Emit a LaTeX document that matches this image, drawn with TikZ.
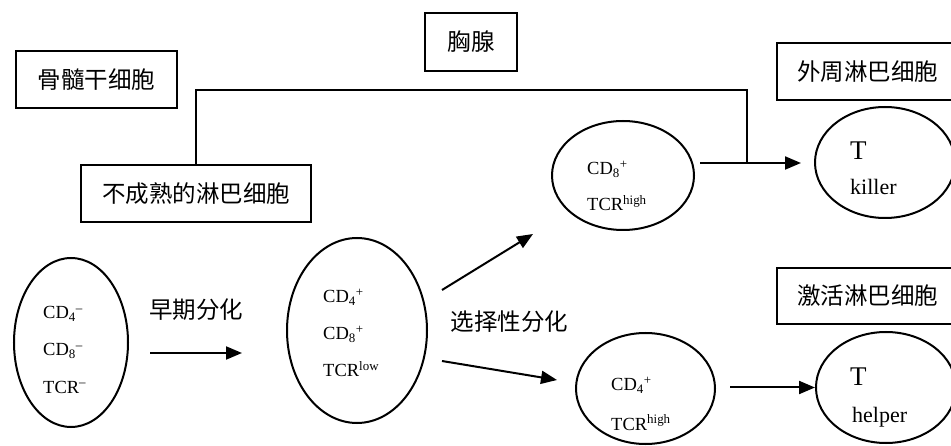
\documentclass[tikz,border=0pt]{standalone}
\usepackage{fontspec}
\setmainfont{Liberation Serif}
\newfontfamily\cjk{Noto Sans CJK SC}
\usetikzlibrary{shapes.geometric,arrows.meta}
\begin{document}
\begin{tikzpicture}[x=1pt,y=-1pt,
 boxnode/.style={draw, line width=2pt, rectangle, inner sep=0pt, font=\cjk\fontsize{23.5}{26}\selectfont},
 cell/.style={draw, line width=2pt, ellipse, inner sep=0pt},
 lab/.style={anchor=base west, inner sep=0pt, font=\fontsize{18.5}{20}\selectfont},
 biglab/.style={anchor=base west, inner sep=0pt, font=\fontsize{27}{29}\selectfont},
 midlab/.style={anchor=base west, inner sep=0pt, font=\fontsize{22}{24}\selectfont},
 cjklab/.style={inner sep=0pt, font=\cjk\fontsize{23.5}{26}\selectfont},
 conn/.style={line width=2pt},
 arr/.style={line width=2pt, -{Triangle[length=16pt,width=13pt]}},
]
\fill[white] (0,0) rectangle (951,446);
\useasboundingbox (0,0) rectangle (951,446);

% boxes
\node[boxnode, minimum width=161pt, minimum height=57pt] (b1) at (96.5,79.5) {骨髓干细胞};
\node[boxnode, minimum width=230pt, minimum height=57pt] (b2) at (196,193.5) {不成熟的淋巴细胞};
\node[boxnode, minimum width=92pt, minimum height=58pt] (b3) at (471,42) {胸腺};
\node[boxnode, minimum width=181pt, minimum height=57pt] (b4) at (867.5,71.5) {外周淋巴细胞};
\node[boxnode, minimum width=181pt, minimum height=56pt] (b5) at (867.5,296) {激活淋巴细胞};

% cells
\node[cell, minimum width=114pt, minimum height=169pt] (E1) at (71,342.5) {};
\node[cell, minimum width=140pt, minimum height=185pt] (E2) at (357,330.5) {};
\node[cell, minimum width=142pt, minimum height=109pt] (E3) at (623,175.5) {};
\node[cell, minimum width=140pt, minimum height=111pt] (E4) at (885,162.5) {};
\node[cell, minimum width=139pt, minimum height=111pt] (E5) at (645.5,388.5) {};
\node[cell, minimum width=140pt, minimum height=111pt] (E6) at (886,387.5) {};

% cell texts
\node[lab] (t11) at (43,319) {CD\textsubscript{4}\textsuperscript{–}};
\node[lab] (t12) at (43,356) {CD\textsubscript{8}\textsuperscript{–}};
\node[lab] (t13) at (43,393) {TCR\textsuperscript{–}};
\node[lab] (t21) at (323,303) {CD\textsubscript{4}\textsuperscript{+}};
\node[lab] (t22) at (323,340) {CD\textsubscript{8}\textsuperscript{+}};
\node[lab] (t23) at (323,377) {TCR\textsuperscript{low}};
\node[lab] (t31) at (587,175) {CD\textsubscript{8}\textsuperscript{+}};
\node[lab] (t32) at (587,211) {TCR\textsuperscript{high}};
\node[biglab] (t41) at (850,160) {T};
\node[midlab] (t42) at (850,195) {killer};
\node[lab] (t51) at (611,391) {CD\textsubscript{4}\textsuperscript{+}};
\node[lab] (t52) at (611,430) {TCR\textsuperscript{high}};
\node[biglab] (t61) at (850,386) {T};
\node[midlab] (t62) at (852,422) {helper};

% arrow labels
\node[cjklab] (l1) at (196,309.5) {早期分化};
\node[cjklab] (l2) at (509.5,321.5) {选择性分化};

% coordinates for free arrow ends
\coordinate (a0) at (150,353);
\coordinate (a1) at (242,353);
\coordinate (s0) at (442,290);
\coordinate (s1) at (533,234);
\coordinate (r0) at (442,361);
\coordinate (r1) at (557,380);
\coordinate (k0) at (700,163);
\coordinate (k1) at (801,163);
\coordinate (h0) at (730,387.5);
\coordinate (t1) at (196,90);
\coordinate (j1) at (747,163);

% connectors
\draw[arr] (a0) -- (a1);
\draw[arr] (s0) -- (s1);
\draw[arr] (r0) -- (r1);
\draw[arr] (k0) -- (k1);
\draw[arr] (h0) -- (E6.west);
\draw[conn] (b2.north) -- (t1) -| (j1);
\end{tikzpicture}
\end{document}
